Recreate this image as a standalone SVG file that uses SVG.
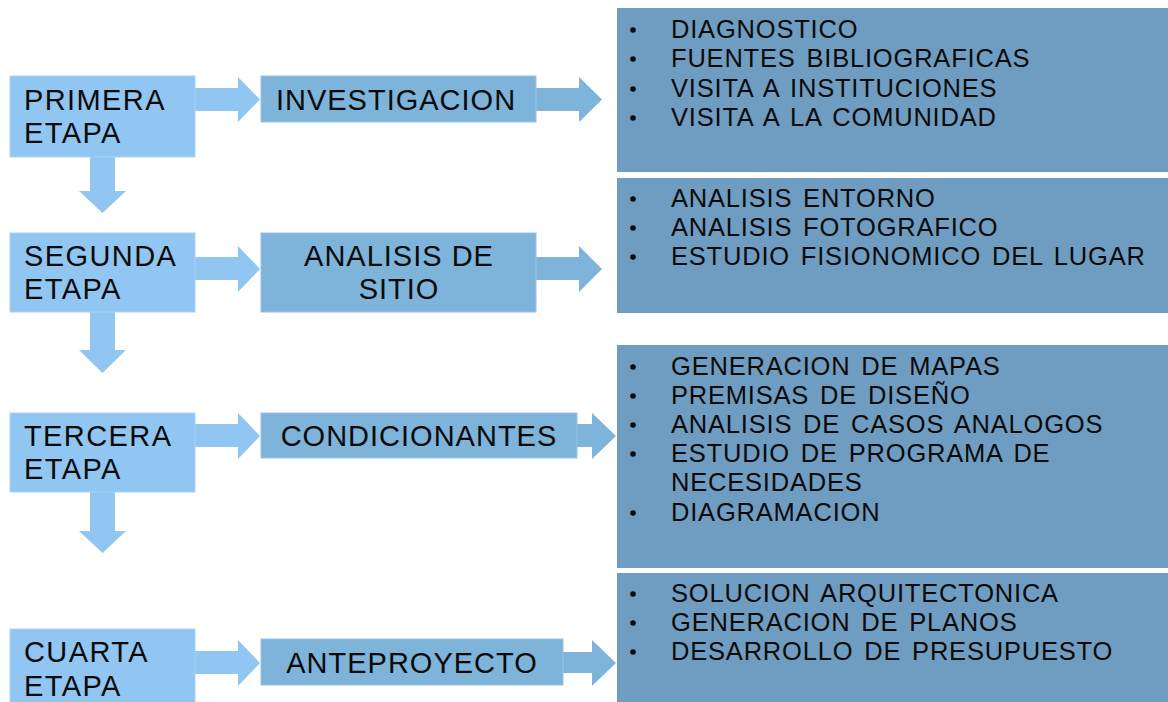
<svg xmlns="http://www.w3.org/2000/svg" width="1168" height="702" viewBox="0 0 1168 702">
<style>
.stage{fill:#90C6F1;stroke:#A9D3F4;stroke-width:1}
.mid{fill:#7EB3DA;stroke:#98C3E3;stroke-width:1}
.panel{fill:#6F9DC1}
.a1{fill:#90C6F1}
.a2{fill:#7EB3DA}
.t{font-family:"Liberation Sans",Arial,sans-serif;fill:#0a0a0a}
.st{font-size:29px;letter-spacing:1.4px}
.mt{font-size:29px;letter-spacing:1px;text-anchor:middle}
.pt{font-size:25.5px;letter-spacing:0.8px;word-spacing:3px}
.b{fill:#0a0a0a}
</style>
<rect width="1168" height="702" fill="#ffffff"/>
<g id="connectors">
<polygon class="a1" points="195,88 238,88 238,77 260,99.5 238,122 238,111 195,111"/>
<polygon class="a1" points="195,257 238,257 238,246 260,269 238,292 238,280 195,280"/>
<polygon class="a1" points="195,424 238,424 238,413 260,436 238,459 238,447 195,447"/>
<polygon class="a1" points="195,651 238,651 238,640 260,663 238,686 238,674 195,674"/>
<polygon class="a1" points="90,157 115,157 115,191 126,191 102.5,213 79,191 90,191"/>
<polygon class="a1" points="90,312 115,312 115,350 126,350 102.5,373 79,350 90,350"/>
<polygon class="a1" points="90,492 115,492 115,531 126,531 102.5,553 79,531 90,531"/>
<polygon class="a2" points="536,88 579,88 579,77 602,99.5 579,122 579,111 536,111"/>
<polygon class="a2" points="536,257 579,257 579,246 602,269 579,292 579,280 536,280"/>
<polygon class="a2" points="577,424 592,424 592,413 616,436 592,459 592,447 577,447"/>
<polygon class="a2" points="563,652 592,652 592,640 616,663 592,686 592,673 563,673"/>
</g>
<g id="stage1"><rect class="stage" x="10" y="76" width="185" height="81"/><text class="t st" x="24" y="110">PRIMERA</text><text class="t st" x="24" y="143">ETAPA</text></g>
<g id="stage2"><rect class="stage" x="10" y="233" width="185" height="79"/><text class="t st" x="24" y="266">SEGUNDA</text><text class="t st" x="24" y="299">ETAPA</text></g>
<g id="stage3"><rect class="stage" x="10" y="413" width="185" height="79"/><text class="t st" x="24" y="446">TERCERA</text><text class="t st" x="24" y="479">ETAPA</text></g>
<g id="stage4"><rect class="stage" x="10" y="629" width="185" height="80"/><text class="t st" x="24" y="662">CUARTA</text><text class="t st" x="24" y="696">ETAPA</text></g>
<g id="investigacion"><rect class="mid" x="261" y="76" width="275" height="46"/><text class="t mt" x="396" y="110">INVESTIGACION</text></g>
<g id="analisis"><rect class="mid" x="261" y="233" width="275" height="79"/><text class="t mt" x="399" y="266">ANALISIS DE</text><text class="t mt" x="399" y="299">SITIO</text></g>
<g id="condicionantes"><rect class="mid" x="261" y="413" width="316" height="45"/><text class="t mt" x="419" y="446">CONDICIONANTES</text></g>
<g id="anteproyecto"><rect class="mid" x="261" y="639" width="302" height="46"/><text class="t mt" x="412" y="673">ANTEPROYECTO</text></g>
<g id="panel1"><rect class="panel" x="617" y="8" width="551" height="164"/>
<circle class="b" cx="633" cy="30" r="2.8"/><circle class="b" cx="633" cy="59" r="2.8"/><circle class="b" cx="633" cy="89" r="2.8"/><circle class="b" cx="633" cy="118" r="2.8"/>
<text class="t pt" x="671" y="38">DIAGNOSTICO</text><text class="t pt" x="671" y="67">FUENTES BIBLIOGRAFICAS</text><text class="t pt" x="671" y="97">VISITA A INSTITUCIONES</text><text class="t pt" x="671" y="126">VISITA A LA COMUNIDAD</text></g>
<g id="panel2"><rect class="panel" x="617" y="178" width="551" height="135"/>
<circle class="b" cx="633" cy="199" r="2.8"/><circle class="b" cx="633" cy="228" r="2.8"/><circle class="b" cx="633" cy="257" r="2.8"/>
<text class="t pt" x="671" y="207">ANALISIS ENTORNO</text><text class="t pt" x="671" y="236">ANALISIS FOTOGRAFICO</text><text class="t pt" x="671" y="265">ESTUDIO FISIONOMICO DEL LUGAR</text></g>
<g id="panel3"><rect class="panel" x="617" y="345" width="551" height="223"/>
<circle class="b" cx="633" cy="367" r="2.8"/><circle class="b" cx="633" cy="396" r="2.8"/><circle class="b" cx="633" cy="425" r="2.8"/><circle class="b" cx="633" cy="454" r="2.8"/><circle class="b" cx="633" cy="513" r="2.8"/>
<text class="t pt" x="671" y="375">GENERACION DE MAPAS</text><text class="t pt" x="671" y="404">PREMISAS DE DISEÑO</text><text class="t pt" x="671" y="433">ANALISIS DE CASOS ANALOGOS</text><text class="t pt" x="671" y="462">ESTUDIO DE PROGRAMA DE</text><text class="t pt" x="671" y="491">NECESIDADES</text><text class="t pt" x="671" y="521">DIAGRAMACION</text></g>
<g id="panel4"><rect class="panel" x="617" y="573" width="551" height="129"/>
<circle class="b" cx="633" cy="594" r="2.8"/><circle class="b" cx="633" cy="623" r="2.8"/><circle class="b" cx="633" cy="652" r="2.8"/>
<text class="t pt" x="671" y="602">SOLUCION ARQUITECTONICA</text><text class="t pt" x="671" y="631">GENERACION DE PLANOS</text><text class="t pt" x="671" y="660">DESARROLLO DE PRESUPUESTO</text></g>
</svg>
